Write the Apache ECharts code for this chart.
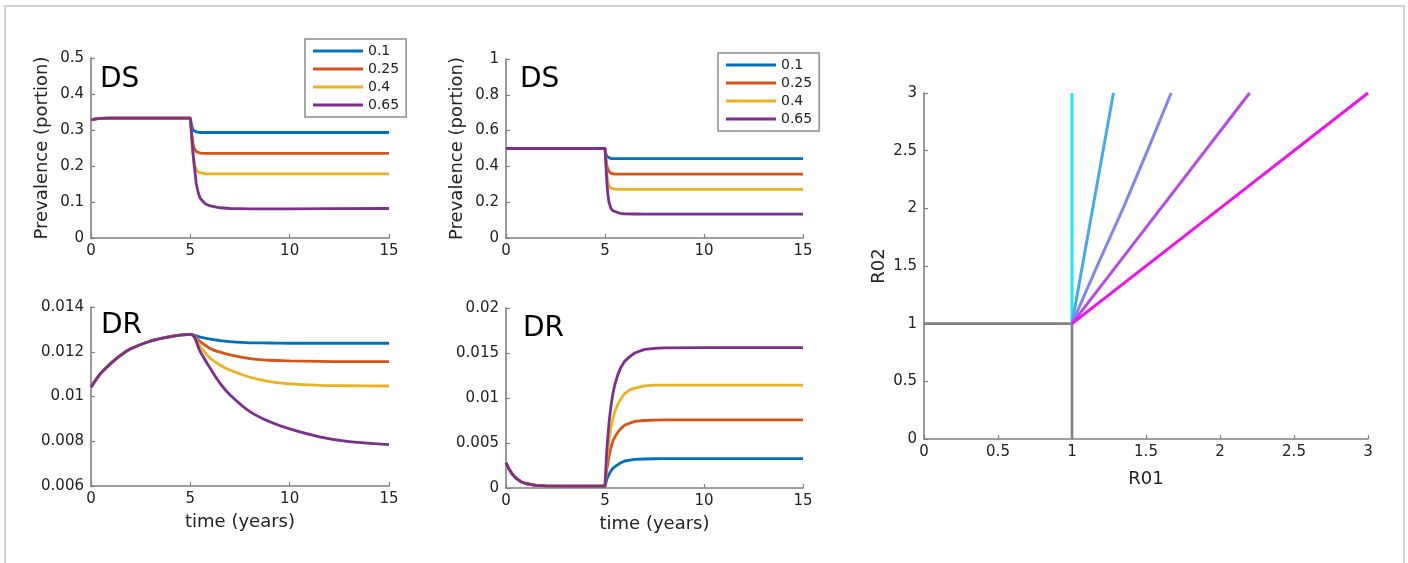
<!DOCTYPE html>
<html>
<head>
<meta charset="utf-8">
<style>
  html, body { margin: 0; padding: 0; background: #ffffff; }
  #chart { width: 1408px; height: 563px; }
</style>
<script src="https://cdn.jsdelivr.net/npm/echarts@6/dist/echarts.min.js"></script>
</head>
<body>
<div id="chart"></div>
<script>
// Treatment-effect ratios shown in the legends
const ratios = ['0.1', '0.25', '0.4', '0.65'];

// DS prevalence, first scenario (time in years)
const timeDS1 = [0, 0.25, 0.5, 1, 2, 3, 4, 5, 5.05, 5.1, 5.15, 5.2, 5.3, 5.4, 5.5, 5.75, 6, 6.5, 7, 8, 10, 12, 15];
const ds1_010 = [0.328, 0.331, 0.3325, 0.333, 0.333, 0.333, 0.333, 0.333, 0.318, 0.306, 0.300, 0.297, 0.2945, 0.2935, 0.293, 0.293, 0.293, 0.293, 0.293, 0.293, 0.293, 0.293, 0.293];
const ds1_025 = [0.328, 0.331, 0.3325, 0.333, 0.333, 0.333, 0.333, 0.333, 0.300, 0.275, 0.258, 0.249, 0.240, 0.237, 0.236, 0.235, 0.235, 0.235, 0.235, 0.235, 0.235, 0.235, 0.235];
const ds1_040 = [0.328, 0.331, 0.3325, 0.333, 0.333, 0.333, 0.333, 0.333, 0.290, 0.250, 0.222, 0.205, 0.190, 0.183, 0.180, 0.178, 0.178, 0.178, 0.178, 0.178, 0.178, 0.178, 0.178];
const ds1_065 = [0.328, 0.331, 0.3325, 0.333, 0.333, 0.333, 0.333, 0.333, 0.300, 0.260, 0.228, 0.200, 0.150, 0.125, 0.110, 0.095, 0.089, 0.084, 0.082, 0.081, 0.081, 0.0815, 0.082];

// DR prevalence, first scenario
const timeDR1 = [0, 0.5, 1, 1.5, 2, 3, 4, 5, 5.5, 6, 6.5, 7, 8, 9, 10, 11.5, 13, 15];
const dr1_010 = [0.01041, 0.01104, 0.01148, 0.01185, 0.01213, 0.01248, 0.01268, 0.01278, 0.01265, 0.01256, 0.0125, 0.01245, 0.0124, 0.01239, 0.01238, 0.01238, 0.01238, 0.01238];
const dr1_025 = [0.01041, 0.01104, 0.01148, 0.01185, 0.01213, 0.01248, 0.01268, 0.01278, 0.01245, 0.01215, 0.01198, 0.01186, 0.01169, 0.01162, 0.01159, 0.01157, 0.01156, 0.01156];
const dr1_040 = [0.01041, 0.01104, 0.01148, 0.01185, 0.01213, 0.01248, 0.01268, 0.01278, 0.01223, 0.01171, 0.0114, 0.01118, 0.01086, 0.01066, 0.01056, 0.0105, 0.01048, 0.01047];
const dr1_065 = [0.01041, 0.01104, 0.01148, 0.01185, 0.01213, 0.01248, 0.01268, 0.01278, 0.0120, 0.01126, 0.01059, 0.01007, 0.00932, 0.00887, 0.00855, 0.0082, 0.00798, 0.00785];

// DS prevalence, second scenario
const timeDS2 = [0, 5, 5.05, 5.1, 5.15, 5.2, 5.3, 5.4, 5.5, 5.75, 6, 6.5, 7, 8, 10, 15];
const ds2_010 = [0.5, 0.5, 0.470, 0.455, 0.449, 0.446, 0.444, 0.443, 0.443, 0.443, 0.443, 0.443, 0.443, 0.443, 0.443, 0.443];
const ds2_025 = [0.5, 0.5, 0.440, 0.400, 0.380, 0.370, 0.361, 0.358, 0.357, 0.357, 0.357, 0.357, 0.357, 0.357, 0.357, 0.357];
const ds2_040 = [0.5, 0.5, 0.420, 0.350, 0.310, 0.292, 0.279, 0.275, 0.273, 0.272, 0.272, 0.272, 0.272, 0.272, 0.272, 0.272];
const ds2_065 = [0.5, 0.5, 0.400, 0.300, 0.240, 0.200, 0.165, 0.152, 0.145, 0.138, 0.135, 0.134, 0.133, 0.133, 0.133, 0.133];

// DR prevalence, second scenario
const timeDR2 = [0, 0.15, 0.3, 0.5, 0.75, 1, 1.5, 2, 3, 4, 5, 5.05, 5.1, 5.2, 5.3, 5.4, 5.5, 5.65, 5.8, 6, 6.25, 6.5, 7, 7.5, 8, 10, 15];
const dr2_010 = [0.0028, 0.0021, 0.0016, 0.0011, 0.0007, 0.0005, 0.0003, 0.00024, 0.0002, 0.0002, 0.0002, 0.0006, 0.0010, 0.0015, 0.0019, 0.0022, 0.0024, 0.0026, 0.0028, 0.0030, 0.0031, 0.00317, 0.00322, 0.00325, 0.00326, 0.00326, 0.00326];
const dr2_025 = [0.0028, 0.0021, 0.0016, 0.0011, 0.0007, 0.0005, 0.0003, 0.00024, 0.0002, 0.0002, 0.0002, 0.0012, 0.0022, 0.0035, 0.0045, 0.0052, 0.0057, 0.0062, 0.0066, 0.0070, 0.0072, 0.0074, 0.0075, 0.00755, 0.00756, 0.00756, 0.00756];
const dr2_040 = [0.0028, 0.0021, 0.0016, 0.0011, 0.0007, 0.0005, 0.0003, 0.00024, 0.0002, 0.0002, 0.0002, 0.0018, 0.0033, 0.0053, 0.0067, 0.0077, 0.0085, 0.0093, 0.0099, 0.0105, 0.0109, 0.0111, 0.01135, 0.01142, 0.01144, 0.01144, 0.01144];
const dr2_065 = [0.0028, 0.0021, 0.0016, 0.0011, 0.0007, 0.0005, 0.0003, 0.00024, 0.0002, 0.0002, 0.0002, 0.0025, 0.0045, 0.0072, 0.0091, 0.0105, 0.0115, 0.0126, 0.0134, 0.0141, 0.0146, 0.0150, 0.0154, 0.01552, 0.01556, 0.0156, 0.0156];

// R01 / R02 threshold diagram
const thresholdH = [[0, 1], [1, 1]];
const thresholdV = [[1, 0], [1, 1]];
const ray1 = [[1, 1], [1, 3]];
const ray2 = [[1, 1], [1.14, 2], [1.28, 3]];
const ray3 = [[1, 1], [1.17, 1.5], [1.345, 2], [1.51, 2.5], [1.67, 3]];
const ray4 = [[1, 1], [1.6, 2], [2.2, 3]];
const ray5 = [[1, 1], [2, 2], [3, 3]];

// ---- styling ----
const lineColors = ['#0072BD', '#D95319', '#EDB120', '#7E2F8E'];
const rayColors = ['#1ee8f0', '#48a8ec', '#8484f0', '#b54ae6', '#f50ff0'];
const FONT = 'DejaVu Sans';
const AXIS_GRAY = '#808080';
const TEXT = '#222222';

function pairs(xs, ys) { return xs.map((x, i) => [x, ys[i]]); }

function xAxisCfg(gridIndex, extra) {
  return Object.assign({
    type: 'value', gridIndex: gridIndex, min: 0, max: 15, interval: 5,
    axisLine: { show: true, onZero: false, lineStyle: { color: AXIS_GRAY, width: 1.6 } },
    axisTick: { show: true, inside: true, length: 4, lineStyle: { color: AXIS_GRAY, width: 1.2 } },
    splitLine: { show: false },
    axisLabel: { fontFamily: FONT, fontSize: 15, color: TEXT, margin: 6 },
    nameTextStyle: { fontFamily: FONT, fontSize: 18, color: TEXT }
  }, extra || {});
}
function yAxisCfg(gridIndex, min, max, interval, extra) {
  return Object.assign({
    type: 'value', gridIndex: gridIndex, min: min, max: max, interval: interval,
    axisLine: { show: true, onZero: false, lineStyle: { color: AXIS_GRAY, width: 1.6 } },
    axisTick: { show: true, inside: true, length: 4, lineStyle: { color: AXIS_GRAY, width: 1.2 } },
    splitLine: { show: false },
    axisLabel: { fontFamily: FONT, fontSize: 15, color: TEXT, margin: 7 },
    nameTextStyle: { fontFamily: FONT, fontSize: 18, color: TEXT }
  }, extra || {});
}

function panelSeries(idx, xs, sets, smooth) {
  return sets.map((ys, k) => ({
    type: 'line', name: ratios[k], xAxisIndex: idx, yAxisIndex: idx,
    data: pairs(xs, ys), symbol: 'none', smooth: smooth,
    color: lineColors[k],
    lineStyle: { width: 2.8, color: lineColors[k] }
  }));
}

function raySeries(name, data, color, width) {
  return {
    type: 'line', name: name, xAxisIndex: 4, yAxisIndex: 4, data: data,
    symbol: 'none', color: color, lineStyle: { width: width, color: color }
  };
}

const legendBase = {
  orient: 'vertical', data: ratios, icon: 'rect', itemWidth: 50, itemHeight: 3,
  itemGap: 2, padding: [4, 7, 4, 8], borderColor: '#8c8c8c', borderWidth: 1.5,
  backgroundColor: '#ffffff', selectedMode: false,
  textStyle: { fontFamily: FONT, fontSize: 14, color: TEXT, lineHeight: 16 }
};

const chart = echarts.init(document.getElementById('chart'), null, { renderer: 'canvas' });

chart.setOption({
  animation: false,
  backgroundColor: '#ffffff',
  grid: [
    { left: 91, top: 58, width: 298, height: 180 },
    { left: 91, top: 307, width: 298, height: 179 },
    { left: 506, top: 59, width: 297, height: 179 },
    { left: 506, top: 308, width: 297, height: 180 },
    { left: 924, top: 93, width: 444, height: 346 }
  ],
  xAxis: [
    xAxisCfg(0),
    xAxisCfg(1, { name: 'time (years)', nameLocation: 'middle', nameGap: 27 }),
    xAxisCfg(2),
    xAxisCfg(3, { name: 'time (years)', nameLocation: 'middle', nameGap: 27 }),
    xAxisCfg(4, { min: 0, max: 3, interval: 0.5, name: 'R01', nameLocation: 'middle', nameGap: 31 })
  ],
  yAxis: [
    yAxisCfg(0, 0, 0.5, 0.1, { name: 'Prevalence (portion)', nameLocation: 'middle', nameGap: 40 }),
    yAxisCfg(1, 0.006, 0.014, 0.002),
    yAxisCfg(2, 0, 1, 0.2, { name: 'Prevalence (portion)', nameLocation: 'middle', nameGap: 40 }),
    yAxisCfg(3, 0, 0.02, 0.005),
    yAxisCfg(4, 0, 3, 0.5, { name: 'R02', nameLocation: 'middle', nameGap: 36 })
  ],
  legend: [
    Object.assign({ left: 305, top: 39 }, legendBase),
    Object.assign({ left: 718, top: 53 }, legendBase)
  ],
  graphic: [
    { type: 'rect', silent: true, shape: { x: 5, y: 6, width: 1399, height: 620 },
      style: { fill: 'none', stroke: '#d2d2d2', lineWidth: 2 } },
    { type: 'text', x: 100, y: 80, style: { text: 'DS', font: '28px "DejaVu Sans"', fill: '#000', verticalAlign: 'middle' } },
    { type: 'text', x: 101, y: 326, style: { text: 'DR', font: '28px "DejaVu Sans"', fill: '#000', verticalAlign: 'middle' } },
    { type: 'text', x: 520, y: 80, style: { text: 'DS', font: '28px "DejaVu Sans"', fill: '#000', verticalAlign: 'middle' } },
    { type: 'text', x: 523, y: 329, style: { text: 'DR', font: '28px "DejaVu Sans"', fill: '#000', verticalAlign: 'middle' } }
  ],
  series: [].concat(
    panelSeries(0, timeDS1, [ds1_010, ds1_025, ds1_040, ds1_065], false),
    panelSeries(1, timeDR1, [dr1_010, dr1_025, dr1_040, dr1_065], 0.4),
    panelSeries(2, timeDS2, [ds2_010, ds2_025, ds2_040, ds2_065], false),
    panelSeries(3, timeDR2, [dr2_010, dr2_025, dr2_040, dr2_065], false),
    [
      raySeries('threshold R01', thresholdH, '#808080', 2.6),
      raySeries('threshold R02', thresholdV, '#808080', 2.6),
      raySeries('ray 1', ray1, rayColors[0], 3),
      raySeries('ray 2', ray2, rayColors[1], 3),
      raySeries('ray 3', ray3, rayColors[2], 3),
      raySeries('ray 4', ray4, rayColors[3], 3),
      raySeries('ray 5', ray5, rayColors[4], 3)
    ]
  )
});
</script>
</body>
</html>
